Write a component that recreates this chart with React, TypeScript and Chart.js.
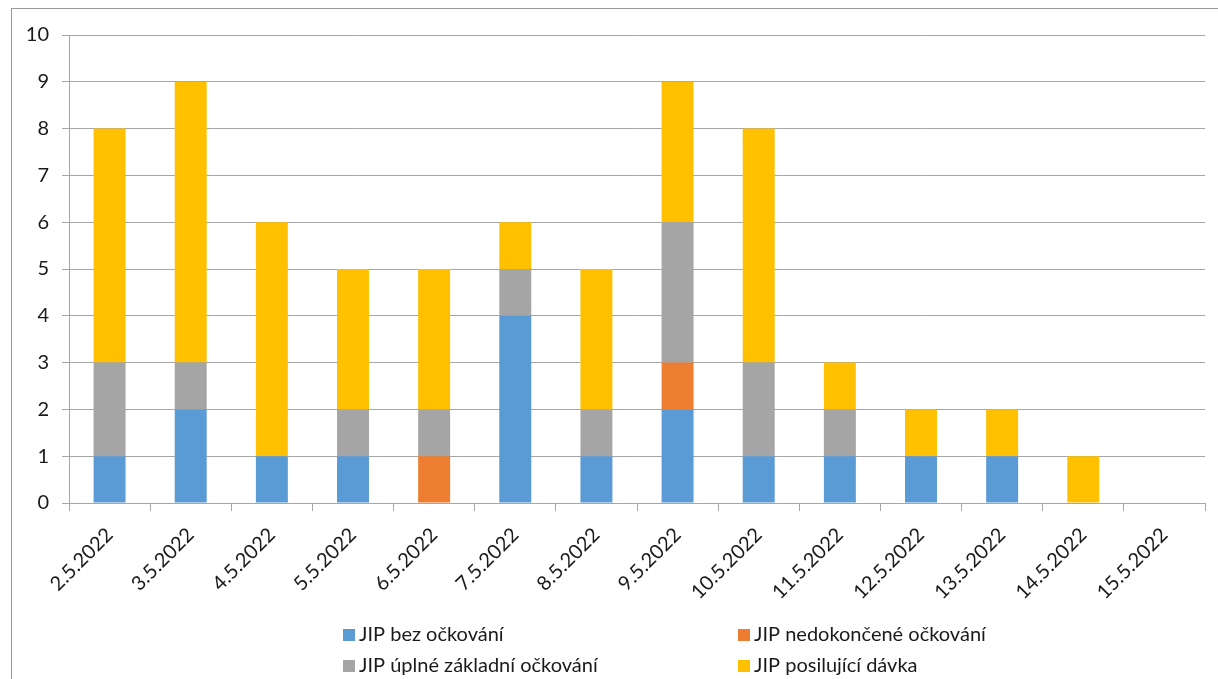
import React, { useEffect, useRef } from "react";
import { Chart, registerables } from "chart.js";

Chart.register(...registerables);

// Daily ICU admissions by vaccination status
const dates = [
  "2.5.2022", "3.5.2022", "4.5.2022", "5.5.2022", "6.5.2022", "7.5.2022", "8.5.2022",
  "9.5.2022", "10.5.2022", "11.5.2022", "12.5.2022", "13.5.2022", "14.5.2022", "15.5.2022",
];
const unvaccinated = [1, 2, 1, 1, 0, 4, 1, 2, 1, 1, 1, 1, 0, 0];
const incomplete = [0, 0, 0, 0, 1, 0, 0, 1, 0, 0, 0, 0, 0, 0];
const fullBasic = [2, 1, 0, 1, 1, 1, 1, 3, 2, 1, 0, 0, 0, 0];
const booster = [5, 6, 5, 3, 3, 1, 3, 3, 5, 1, 1, 1, 1, 0];

const seriesLabels = [
  "JIP bez očkování",
  "JIP nedokončené očkování",
  "JIP úplné základní očkování",
  "JIP posilující dávka",
];
const seriesColors = ["#5B9BD5", "#ED7D31", "#A5A5A5", "#FFC000"];

const FONT = "Lato, 'Open Sans', 'DejaVu Sans', sans-serif";

// Frame around the whole chart and a two-column legend under the axis
const framePlugin = {
  id: "frameAndLegend",
  beforeDraw(chart: any) {
    const ctx = chart.ctx;
    ctx.save();
    ctx.fillStyle = "#ffffff";
    ctx.fillRect(0, 0, chart.width, chart.height);
    ctx.strokeStyle = "#9a9a9a";
    ctx.lineWidth = 1;
    ctx.strokeRect(11.5, 8.5, chart.width + 50, chart.height + 50);
    ctx.restore();
  },
  afterDraw(chart: any) {
    const ctx = chart.ctx;
    const cols = [343, 738];
    const rows = [635, 666];
    ctx.save();
    ctx.font = `20px ${FONT}`;
    ctx.textBaseline = "middle";
    ctx.textAlign = "left";
    chart.data.datasets.forEach((ds: any, i: number) => {
      const x = cols[i % 2];
      const y = rows[Math.floor(i / 2)];
      ctx.fillStyle = ds.backgroundColor;
      ctx.fillRect(x, y - 6, 12, 12);
      ctx.fillStyle = "#1a1a1a";
      ctx.fillText(ds.label, x + 16, y);
    });
    ctx.restore();
  },
};

export default function App() {
  const canvasRef = useRef<HTMLCanvasElement | null>(null);

  useEffect(() => {
    document.body.style.margin = "0";
    const canvas = canvasRef.current;
    if (!canvas) return;
    const values = [unvaccinated, incomplete, fullBasic, booster];
    const chart = new Chart(canvas, {
      type: "bar",
      data: {
        labels: dates,
        datasets: values.map((data, i) => ({
          label: seriesLabels[i],
          data,
          backgroundColor: seriesColors[i],
          borderWidth: 0,
          barPercentage: 0.394,
          categoryPercentage: 1,
        })),
      },
      options: {
        responsive: false,
        animation: false,
        devicePixelRatio: 1,
        layout: { padding: { top: 35, right: 13, left: 0, bottom: 0 } },
        plugins: {
          legend: { display: false },
          tooltip: { enabled: false },
        },
        scales: {
          x: {
            stacked: true,
            afterFit(scale: any) {
              scale.height = 176;
            },
            grid: {
              offset: true,
              drawOnChartArea: false,
              drawTicks: true,
              tickLength: 8,
              color: "#a6a6a6",
              lineWidth: 1,
            },
            border: { display: true, color: "#a6a6a6", width: 1 },
            ticks: {
              minRotation: 45,
              maxRotation: 45,
              autoSkip: false,
              padding: 12,
              color: "#1a1a1a",
              font: { family: FONT, size: 20 },
            },
          },
          y: {
            stacked: true,
            min: 0,
            max: 10,
            afterFit(scale: any) {
              scale.width = 69;
            },
            grid: {
              color: "#a6a6a6",
              lineWidth: 1,
              drawTicks: true,
              tickLength: 7,
            },
            border: { display: true, color: "#a6a6a6", width: 1 },
            ticks: {
              stepSize: 1,
              padding: 13,
              color: "#1a1a1a",
              font: { family: FONT, size: 20 },
            },
          },
        },
      },
      plugins: [framePlugin],
    });
    return () => chart.destroy();
  }, []);

  return (
    <canvas
      ref={canvasRef}
      width={1218}
      height={679}
      style={{ display: "block", width: 1218, height: 679 }}
    />
  );
}
